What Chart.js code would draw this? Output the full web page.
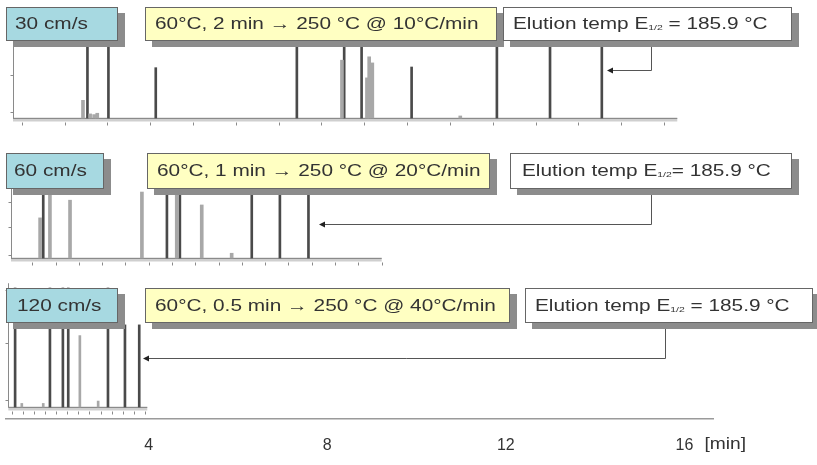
<!DOCTYPE html>
<html>
<head>
<meta charset="utf-8">
<script src="https://cdn.jsdelivr.net/npm/chart.js@4.4.0/dist/chart.umd.min.js"></script>
<style>
  html, body { margin: 0; padding: 0; background: #fff; }
  #wrap { position: relative; width: 817px; height: 465px; }
</style>
</head>
<body>
<div id="wrap"><canvas id="chart" width="817" height="465"></canvas></div>
<script>
// shared time axis [min]
const tickLabels = [4, 8, 12, 16];

// 30 cm/s : retention time [min] / height [% of panel]
const topTimes = [2.63, 3.10, 4.16, 7.32, 8.38, 8.77, 9.89, 11.80, 12.99, 14.15];
const topHeights = [110, 110, 74, 110, 110, 110, 75, 110, 110, 110];
const topMinorTimes = [2.53, 2.69, 2.78, 2.85, 8.33, 8.89, 8.94, 9.01, 10.98];
const topMinorHeights = [26, 6, 5, 7, 85, 59, 90, 81, 3];

// 60 cm/s
const midTimes = [1.64, 4.41, 4.70, 6.31, 6.94, 7.58];
const midHeights = [110, 110, 110, 110, 110, 110];
const midMinorTimes = [1.57, 1.79, 2.24, 3.85, 4.63, 5.19, 5.86];
const midMinorHeights = [59, 110, 85, 97, 110, 78, 7];

// 120 cm/s
const botTimes = [1.01, 1.79, 2.08, 2.20, 3.09, 3.47, 3.79];
const botHeights = [100, 100, 100, 100, 100, 69, 69];
const botMinorTimes = [1.16, 1.64, 2.46, 2.87];
const botMinorHeights = [3, 3, 60, 5];

// box texts
const speedLabels = ["30 cm/s", "60 cm/s", "120 cm/s"];
const programLabels = [
  "60°C, 2 min → 250 °C @ 10°C/min",
  "60°C, 1 min → 250 °C @ 20°C/min",
  "60°C, 0.5 min → 250 °C @ 40°C/min",
];
const elutionTemp = "185.9 °C";

const FONT = '"Liberation Sans", Arial, sans-serif';
const PLOT_BOTTOM = 419; // 底部轴线位置

// 每个面板的布局
const panels = [
  { yId: "yTop", base: 118, top: 50, start: 0.963, end: 15.84, tickStart: 1.158, tickStep: 0.959,
    axisTop: 110, yTicks: [9, 63], times: topTimes, arrowLevel: 71, elbowX: 651, boxBottom: 42, arrowGap: 5 },
  { yId: "yMid", base: 258, top: 190, start: 0.918, end: 9.22, tickStart: 1.395, tickStep: 0.5215,
    axisTop: 110, yTicks: [4, 46, 83], times: midTimes, arrowLevel: 50, elbowX: 651, boxBottom: 190, arrowGap: 11 },
  { yId: "yBot", base: 407, top: 288, start: 0.858, end: 3.97, tickStart: 0.934, tickStep: 0.2487,
    axisTop: 104, yTicks: [6, 54, 98], times: botTimes, arrowLevel: 41, elbowX: 665, boxBottom: 324, arrowGap: 4 },
];

// 标签框
const boxRows = [
  { y: 7, h: 34, cyan: [6, 118], yellow: [145, 497], white: [503, 792], pad: [9, 10, 10], eqSpace: true },
  { y: 153, h: 36, cyan: [6, 104], yellow: [147, 490], white: [510, 792], pad: [8, 10, 12], eqSpace: false },
  { y: 288, h: 35, cyan: [6, 118], yellow: [145, 510], white: [525, 813], pad: [11, 10, 10], eqSpace: true },
];

function panelScale(p) {
  const k = 100 / (p.base - p.top);
  return { type: "linear", display: false, min: -(PLOT_BOTTOM - p.base) * k, max: p.base * k };
}

function peaks(times, heights) {
  return times.map((t, i) => ({ x: t, y: heights[i] }));
}

function line(ctx, x0, y0, x1, y1) {
  ctx.beginPath();
  ctx.moveTo(x0, y0);
  ctx.lineTo(x1, y1);
  ctx.stroke();
}

// 面板坐标轴（基线、刻度）
function drawPanelFrame(chart, p) {
  const ctx = chart.ctx;
  const xs = chart.scales.x;
  const ys = chart.scales[p.yId];
  const x0 = xs.getPixelForValue(p.start);
  const x1 = xs.getPixelForValue(p.end);
  const b = Math.round(ys.getPixelForValue(0)) + 0.5;
  ctx.save();
  ctx.strokeStyle = "#cfcfcf";
  ctx.lineWidth = 4;
  line(ctx, x0, b + 1, x1, b + 1);
  ctx.strokeStyle = "#8a8a8a";
  ctx.lineWidth = 1;
  line(ctx, x0, b, x1, b);
  const ax = Math.round(x0) + 0.5;
  line(ctx, ax, ys.getPixelForValue(p.axisTop), ax, b);
  p.yTicks.forEach((v) => {
    const py = Math.round(ys.getPixelForValue(v)) + 0.5;
    line(ctx, ax - 3, py, ax, py);
  });
  for (let t = p.tickStart; t <= p.end + 1e-6; t += p.tickStep) {
    const px = Math.round(xs.getPixelForValue(t)) + 0.5;
    line(ctx, px, b + 4, px, b + 7);
  }
  ctx.restore();
}

// 箭头：从洗脱温度框指向最后一个峰
function drawArrow(chart, p) {
  const ctx = chart.ctx;
  const xs = chart.scales.x;
  const ys = chart.scales[p.yId];
  const peakX = xs.getPixelForValue(p.times[p.times.length - 1]);
  const tip = Math.round(peakX + p.arrowGap);
  const ay = Math.round(ys.getPixelForValue(p.arrowLevel)) + 0.5;
  const ex = p.elbowX + 0.5;
  ctx.save();
  ctx.strokeStyle = "#555";
  ctx.lineWidth = 1;
  ctx.beginPath();
  ctx.moveTo(ex, p.boxBottom);
  ctx.lineTo(ex, ay);
  ctx.lineTo(tip + 4, ay);
  ctx.stroke();
  ctx.fillStyle = "#222";
  ctx.beginPath();
  ctx.moveTo(tip, ay);
  ctx.lineTo(tip + 6, ay - 3);
  ctx.lineTo(tip + 6, ay + 3);
  ctx.closePath();
  ctx.fill();
  ctx.restore();
}

function drawText(ctx, x, y, parts, size, stretch) {
  ctx.save();
  ctx.translate(x, y);
  ctx.scale(stretch, 1);
  ctx.fillStyle = "#333";
  ctx.textBaseline = "middle";
  let cx = 0;
  parts.forEach(([txt, small]) => {
    ctx.font = (small ? "8px " : size + "px ") + FONT;
    ctx.fillText(txt, cx, small ? 3 : 0);
    cx += ctx.measureText(txt).width;
  });
  ctx.restore();
}

function drawBox(ctx, x0, x1, y, h, fill, pad, parts) {
  ctx.save();
  ctx.fillStyle = "#8c8c8c";
  ctx.fillRect(x0 + 7, y + 6, x1 - x0, h);
  ctx.fillStyle = fill;
  ctx.fillRect(x0, y, x1 - x0, h);
  ctx.strokeStyle = "#666";
  ctx.lineWidth = 1;
  ctx.strokeRect(x0 + 0.5, y + 0.5, x1 - x0 - 1, h - 1);
  ctx.restore();
  drawText(ctx, x0 + pad, y + h / 2 + 1, parts, 16, 1.3);
}

const chromPlugin = {
  id: "chrom",
  beforeDatasetsDraw(chart) {
    panels.forEach((p) => drawPanelFrame(chart, p));
  },
  afterDatasetsDraw(chart) {
    const ctx = chart.ctx;
    panels.forEach((p) => drawArrow(chart, p));
    boxRows.forEach((r, i) => {
      drawBox(ctx, r.cyan[0], r.cyan[1], r.y, r.h, "#a7d9e1", r.pad[0], [[speedLabels[i]]]);
      drawBox(ctx, r.yellow[0], r.yellow[1], r.y, r.h, "#ffffc2", r.pad[1], [[programLabels[i]]]);
      drawBox(ctx, r.white[0], r.white[1], r.y, r.h, "#ffffff", r.pad[2], [
        ["Elution temp E"], ["1/2", true], [(r.eqSpace ? " = " : "= ") + elutionTemp],
      ]);
    });
    // 单位
    const xs = chart.scales.x;
    drawText(ctx, xs.getPixelForValue(16) + 20, 445, [["[min]"]], 16, 1.2);
  },
};

function barSet(times, heights, yId, color, thickness) {
  return {
    data: peaks(times, heights),
    yAxisID: yId,
    backgroundColor: color,
    borderWidth: 0,
    barThickness: thickness,
    grouped: false,
  };
}

const ctx = document.getElementById("chart").getContext("2d");
new Chart(ctx, {
  type: "bar",
  data: {
    datasets: [
      barSet(topMinorTimes, topMinorHeights, "yTop", "#a8a8a8", 3),
      barSet(midMinorTimes, midMinorHeights, "yMid", "#a8a8a8", 3),
      barSet(botMinorTimes, botMinorHeights, "yBot", "#a8a8a8", 2),
      barSet(topTimes, topHeights, "yTop", "#4a4a4a", 2),
      barSet(midTimes, midHeights, "yMid", "#4a4a4a", 2),
      barSet(botTimes, botHeights, "yBot", "#4a4a4a", 2),
    ],
  },
  options: {
    responsive: false,
    animation: false,
    devicePixelRatio: 1,
    layout: { padding: { left: 6, right: 104, top: 0, bottom: 0 } },
    plugins: { legend: { display: false }, tooltip: { enabled: false } },
    scales: {
      x: {
        type: "linear",
        position: "bottom",
        offset: false,
        min: 0.806,
        max: 16.64,
        grid: { display: false, offset: false },
        border: { color: "#9a9a9a", width: 1.5 },
        ticks: { color: "#333", font: { family: FONT, size: 16 }, padding: 9 },
        afterBuildTicks: (s) => { s.ticks = tickLabels.map((v) => ({ value: v })); },
        afterFit: (s) => { s.height = 465 - PLOT_BOTTOM; },
      },
      yTop: panelScale(panels[0]),
      yMid: panelScale(panels[1]),
      yBot: panelScale(panels[2]),
    },
  },
  plugins: [chromPlugin],
});
</script>
</body>
</html>
